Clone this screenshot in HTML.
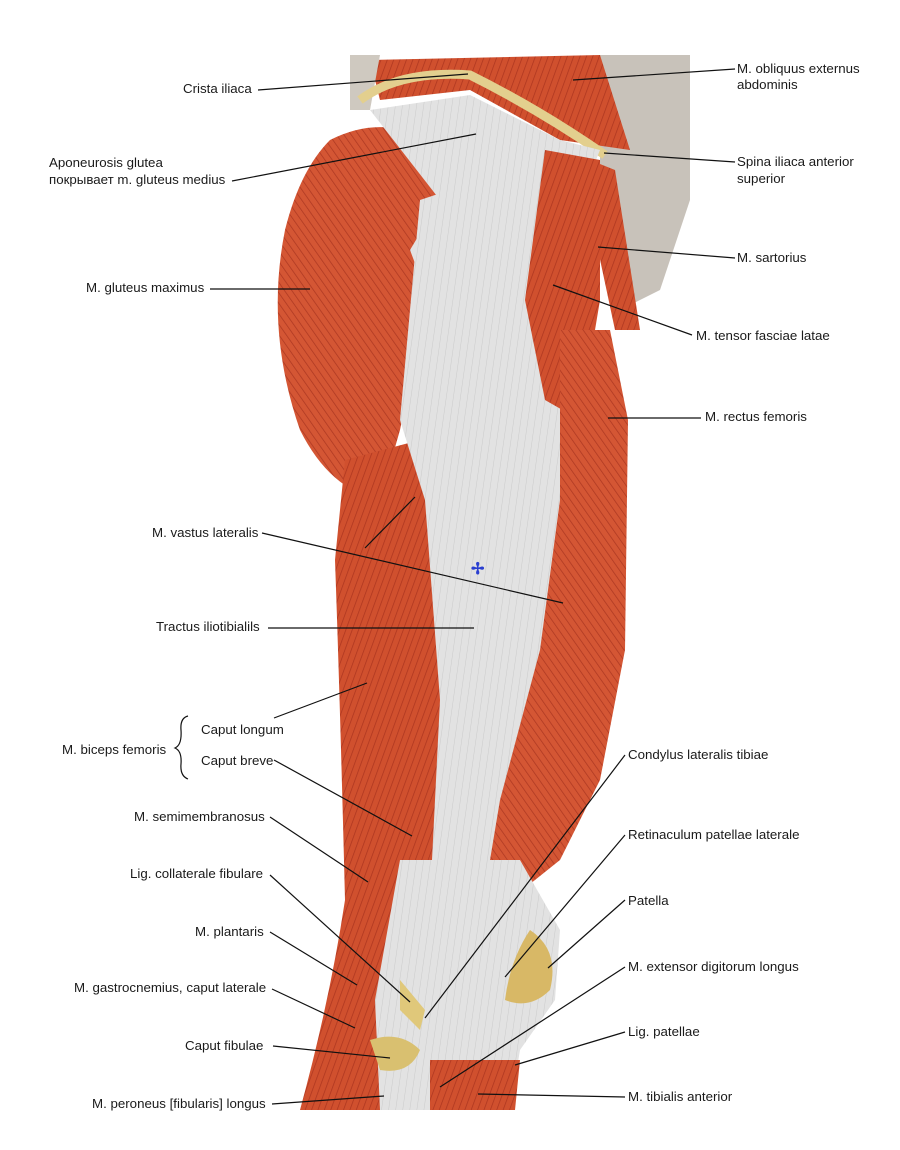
<!DOCTYPE html>
<html><head><meta charset="utf-8"><style>
html,body{margin:0;padding:0;background:#fff}
svg{display:block}
text{font-family:"Liberation Sans","Noto Sans CJK SC",sans-serif;font-size:13.3px;fill:#1a1a1a}
</style></head><body>
<svg width="900" height="1150" viewBox="0 0 900 1150" xmlns="http://www.w3.org/2000/svg">
<rect width="900" height="1150" fill="#fff"/>
<defs>
<pattern id="fib" width="6" height="6" patternUnits="userSpaceOnUse" patternTransform="rotate(20)">
<rect width="6" height="6" fill="#d0502e"/><line x1="0" y1="0" x2="0" y2="6" stroke="#ad3620" stroke-width="1.5"/></pattern>
<pattern id="fib2" width="6" height="6" patternUnits="userSpaceOnUse" patternTransform="rotate(-35)">
<rect width="6" height="6" fill="#d45634"/><line x1="0" y1="0" x2="0" y2="6" stroke="#ad3822" stroke-width="1.5"/></pattern>
<pattern id="fas" width="7" height="7" patternUnits="userSpaceOnUse" patternTransform="rotate(8)">
<rect width="7" height="7" fill="#e2e2e2"/><line x1="0" y1="0" x2="0" y2="7" stroke="#cbcbcb" stroke-width="1"/></pattern>
</defs>
<path d="M600 55 L690 55 L690 200 L660 290 L620 310 L600 250 Z" fill="#c8c2ba"/>
<path d="M370 60 L600 55 L630 150 L560 140 L470 90 L380 100 Z" fill="url(#fib)"/>
<path d="M350 55 L380 55 L370 110 L350 110 Z" fill="#cfc9c0"/>
<path d="M360 100 Q400 70 470 75 Q540 110 605 155" stroke="#e3cf8e" stroke-width="9" fill="none"/>
<path d="M330 140 Q390 110 440 150 L470 230 L420 330 L400 430 L380 500 Q330 490 300 430 Q265 330 285 230 Q300 170 330 140 Z" fill="url(#fib2)"/>
<path d="M370 110 L470 95 L560 140 L600 150 L560 250 L520 320 L440 330 L410 250 L440 200 Z" fill="url(#fas)"/>
<path d="M345 460 L420 440 L440 600 L450 860 L430 1000 L400 1060 L380 1110 L300 1110 Q330 1000 345 900 Q340 700 335 560 Z" fill="url(#fib)"/>
<path d="M420 200 L540 160 L560 250 L560 500 L540 700 L520 860 L515 950 L500 1020 L440 1020 L430 900 L440 700 L425 500 L400 420 Z" fill="url(#fas)"/>
<path d="M545 150 L600 160 L600 300 L580 420 L545 400 L525 300 Z" fill="url(#fib)"/>
<path d="M590 160 L615 170 L640 330 L615 330 L598 250 Z" fill="url(#fib)"/>
<path d="M560 330 L610 330 L628 420 L625 650 L600 780 L560 860 L510 900 L480 920 L500 800 L540 650 L560 500 Z" fill="url(#fib2)"/>
<path d="M400 860 L520 860 L560 930 L555 1000 L520 1050 L510 1110 L380 1110 L375 1000 Z" fill="url(#fas)"/>
<path d="M530 930 Q560 950 550 990 Q530 1010 505 1000 Q510 960 530 930 Z" fill="#d8b866"/>
<path d="M370 1040 Q400 1030 420 1050 Q410 1075 380 1070 Z" fill="#d9c070"/>
<path d="M430 1060 L520 1060 L515 1110 L430 1110 Z" fill="url(#fib)"/>
<path d="M400 980 L425 1010 L420 1030 L400 1010 Z" fill="#e0c87a"/>
<text x="471" y="574" style="fill:#2a3fd0;font-size:16px;font-weight:bold">✢</text>

<g stroke="#111" stroke-width="1.2" fill="none">
<line x1="258" y1="90" x2="468" y2="74"/>
<line x1="232" y1="181" x2="476" y2="134"/>
<line x1="210" y1="289" x2="310" y2="289"/>
<line x1="262" y1="533" x2="563" y2="603"/>
<line x1="365" y1="548" x2="415" y2="497"/>
<line x1="268" y1="628" x2="474" y2="628"/>
<line x1="274" y1="718" x2="367" y2="683"/>
<line x1="274" y1="760" x2="412" y2="836"/>
<line x1="270" y1="817" x2="368" y2="882"/>
<line x1="270" y1="875" x2="410" y2="1002"/>
<line x1="270" y1="932" x2="357" y2="985"/>
<line x1="272" y1="989" x2="355" y2="1028"/>
<line x1="273" y1="1046" x2="390" y2="1058"/>
<line x1="272" y1="1104" x2="384" y2="1096"/>
<line x1="735" y1="69" x2="573" y2="80"/>
<line x1="735" y1="162" x2="604" y2="153"/>
<line x1="735" y1="258" x2="598" y2="247"/>
<line x1="692" y1="335" x2="553" y2="285"/>
<line x1="701" y1="418" x2="608" y2="418"/>
<line x1="625" y1="755" x2="425" y2="1018"/>
<line x1="625" y1="835" x2="505" y2="977"/>
<line x1="625" y1="900" x2="548" y2="968"/>
<line x1="625" y1="967" x2="440" y2="1087"/>
<line x1="625" y1="1032" x2="515" y2="1065"/>
<line x1="625" y1="1097" x2="478" y2="1094"/>
<path d="M188 716 Q180 718 181 730 Q182 745 175 748 Q182 751 181 764 Q180 776 188 779"/>
</g>
<text x="183" y="93">Crista iliaca</text>
<text x="49" y="167">Aponeurosis glutea</text>
<text x="49" y="184">покрывает m. gluteus medius</text>
<text x="86" y="292">M. gluteus maximus</text>
<text x="152" y="537">M. vastus lateralis</text>
<text x="156" y="631">Tractus iliotibialils</text>
<text x="62" y="754">M. biceps femoris</text>
<text x="201" y="734">Caput longum</text>
<text x="201" y="765">Caput breve</text>
<text x="134" y="821">M. semimembranosus</text>
<text x="130" y="878">Lig. collaterale fibulare</text>
<text x="195" y="936">M. plantaris</text>
<text x="74" y="992">M. gastrocnemius, caput laterale</text>
<text x="185" y="1050">Caput fibulae</text>
<text x="92" y="1108">M. peroneus [fibularis] longus</text>
<text x="737" y="73">M. obliquus externus</text>
<text x="737" y="89">abdominis</text>
<text x="737" y="166">Spina iliaca anterior</text>
<text x="737" y="183">superior</text>
<text x="737" y="262">M. sartorius</text>
<text x="696" y="340">M. tensor fasciae latae</text>
<text x="705" y="421">M. rectus femoris</text>
<text x="628" y="759">Condylus lateralis tibiae</text>
<text x="628" y="839">Retinaculum patellae laterale</text>
<text x="628" y="905">Patella</text>
<text x="628" y="971">M. extensor digitorum longus</text>
<text x="628" y="1036">Lig. patellae</text>
<text x="628" y="1101">M. tibialis anterior</text>
</svg>
</body></html>
